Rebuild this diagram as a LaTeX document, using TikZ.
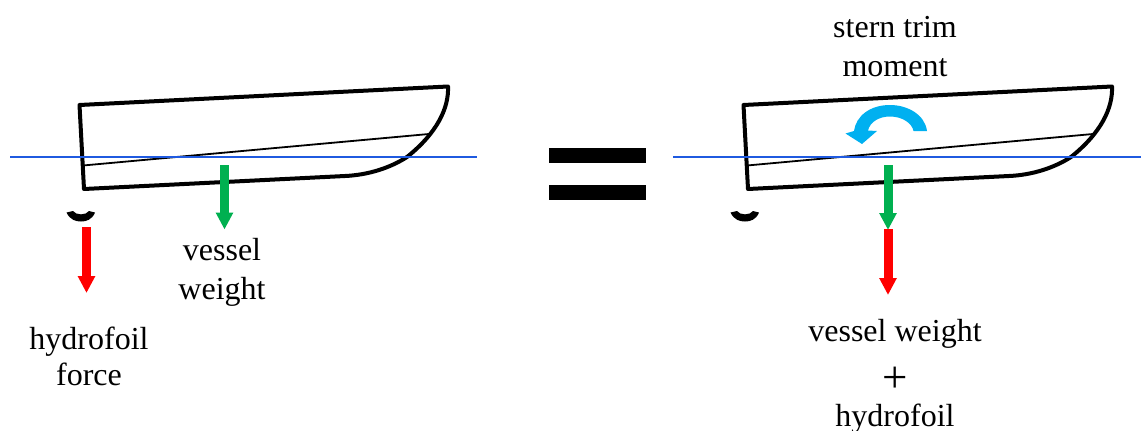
\documentclass[tikz,border=0pt]{standalone}
\usepackage{fontspec}
\setmainfont{Liberation Serif}
\usetikzlibrary{arrows.meta}
\definecolor{wline}{HTML}{1F5AE0}
\definecolor{fgreen}{HTML}{00B050}
\definecolor{fred}{HTML}{FF0000}
\definecolor{mblue}{HTML}{00B0F0}
\tikzset{
  hullline/.style={line width=4pt,line join=round,line cap=round,black},
  deckline/.style={line width=1.8pt,black},
  waterline/.style={line width=1.8pt,wline},
  force/.style={line width=9pt,-{Triangle[length=17pt,width=16.5pt,inset=0pt]}},
  lab/.style={font=\fontsize{32}{32}\selectfont,anchor=base,inner sep=0pt,text=black},
  foil/.style={fill=black,draw=none},
  eqbar/.style={fill=black,draw=none},
  moment/.style={fill=mblue,draw=none}
}
\begin{document}
\begin{tikzpicture}[x=1pt,y=-1pt]
\useasboundingbox (0,0) rectangle (1141,431);
% left vessel
\draw[hullline] (79.5,105) -- (448,86.5) .. controls (449,108) and (437,133) .. (407,157) .. controls (390,168) and (368,175) .. (345,176) -- (84,189) -- cycle;
\coordinate (ld1) at (83,165.5);
\coordinate (ld2) at (429,134);
\draw[deckline] (ld1) -- (ld2);
\coordinate (lw1) at (10,157);
\coordinate (lw2) at (477,157);
\draw[waterline] (lw1) -- (lw2);
\fill[foil] (66.5,212.5) .. controls (70,220) and (76,221.5) .. (81,221.5) .. controls (86,221.5) and (92,220) .. (95,212.5) -- (89,211) .. controls (86,215.5) and (76,215.5) .. (73,211) -- cycle;
\coordinate (lg1) at (224.5,165);
\coordinate (lg2) at (224.5,229.5);
\draw[force,fgreen] (lg1) -- (lg2);
\coordinate (lr1) at (86.5,227);
\coordinate (lr2) at (86.5,293);
\draw[force,fred] (lr1) -- (lr2);
\node[lab] (t1) at (222,260) {vessel};
\node[lab] (t2) at (222,299) {weight};
\node[lab] (t3) at (89,349) {hydrofoil};
\node[lab] (t4) at (89,385) {force};
% equals
\fill[eqbar] (549,148) rectangle (646,163);
\fill[eqbar] (549,185) rectangle (646,200);
% right vessel
\begin{scope}[xshift=664pt]
\draw[hullline] (79.5,105) -- (448,86.5) .. controls (449,108) and (437,133) .. (407,157) .. controls (390,168) and (368,175) .. (345,176) -- (84,189) -- cycle;
\coordinate (rd1) at (83,165.5);
\coordinate (rd2) at (429,134);
\draw[deckline] (rd1) -- (rd2);
\fill[foil] (66.5,212.5) .. controls (70,220) and (76,221.5) .. (81,221.5) .. controls (86,221.5) and (92,220) .. (95,212.5) -- (89,211) .. controls (86,215.5) and (76,215.5) .. (73,211) -- cycle;
\end{scope}
\coordinate (rw1) at (673,157);
\coordinate (rw2) at (1141,157);
\draw[waterline] (rw1) -- (rw2);
\fill[moment] (927,131) .. controls (925,115) and (908,105) .. (890,105) .. controls (870,105) and (856,116) .. (854,131) -- (845.5,133.5) -- (862,144) -- (877,131) -- (868,130.5) .. controls (870,122) and (879,116.5) .. (890,116.5) .. controls (902,116.5) and (912,123) .. (913.5,131) -- cycle;
\coordinate (rg1) at (888,165);
\coordinate (rg2) at (888,230);
\draw[force,fgreen] (rg1) -- (rg2);
\coordinate (rr1) at (888,229);
\coordinate (rr2) at (888,295);
\draw[force,fred] (rr1) -- (rr2);
\node[lab] (t5) at (895,37) {stern trim};
\node[lab] (t6) at (895,76) {moment};
\node[lab] (t7) at (895,341) {vessel weight};
\node[lab,font=\fontsize{45}{45}\selectfont] (t8) at (895,392) {+};
\node[lab] (t9) at (895,426) {hydrofoil};
\end{tikzpicture}
\end{document}
